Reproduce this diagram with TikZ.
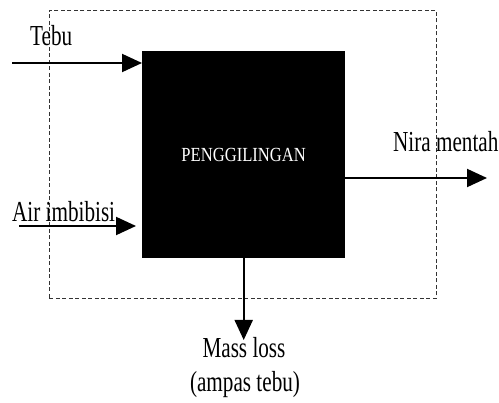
\documentclass[tikz,border=0pt]{standalone}
\usepackage{fontspec}
\setmainfont{Liberation Serif}
\newfontfamily\lblf{Liberation Serif}[FakeStretch=0.73]
\newfontfamily\boxf{Liberation Serif}[FakeStretch=0.83]
\usetikzlibrary{arrows.meta}
\begin{document}
\begin{tikzpicture}[x=1pt,y=-1pt,
  lbl/.style={font=\lblf\fontsize{29}{33}\selectfont, inner sep=0pt, anchor=base west},
  flow/.style={line width=2pt, -{Triangle[length=20pt,width=18pt]}},
  sysbox/.style={draw=black!80, dash pattern=on 4pt off 2.5pt, line width=0.8pt, inner sep=0pt},
  millbox/.style={fill=black, inner sep=0pt, text=white, font=\boxf\fontsize{20}{24}\selectfont}]
\useasboundingbox (0,0) rectangle (499,403);
\node[sysbox, minimum width=387pt, minimum height=288pt, anchor=north west] (sys) at (49,10) {};
\node[millbox, minimum width=203pt, minimum height=207pt, anchor=north west] (mill) at (142,51) {PENGGILINGAN};
% inputs
\coordinate (tebuS) at (12,63);
\draw[flow] (tebuS) -- (mill.west |- tebuS);
\node[lbl] (tebu) at (30,46) {Tebu};
\coordinate (airS) at (19,226);
\coordinate (airE) at (136,226);
\node[lbl] (air) at (12,222) {Air imbibisi};
\draw[flow] (airS) -- (airE);
% outputs
\coordinate (niraE) at (487,178);
\draw[flow] (mill.east |- niraE) -- (niraE);
\node[lbl] (nira) at (393,152) {Nira mentah};
\coordinate (massE) at (mill.south |- 0,340);
\draw[flow] (mill.south) -- (massE);
\node[lbl, anchor=base] (mass) at (244,358) {Mass loss};
\node[lbl, anchor=base] (ampas) at (245,392) {(ampas tebu)};
\end{tikzpicture}
\end{document}
